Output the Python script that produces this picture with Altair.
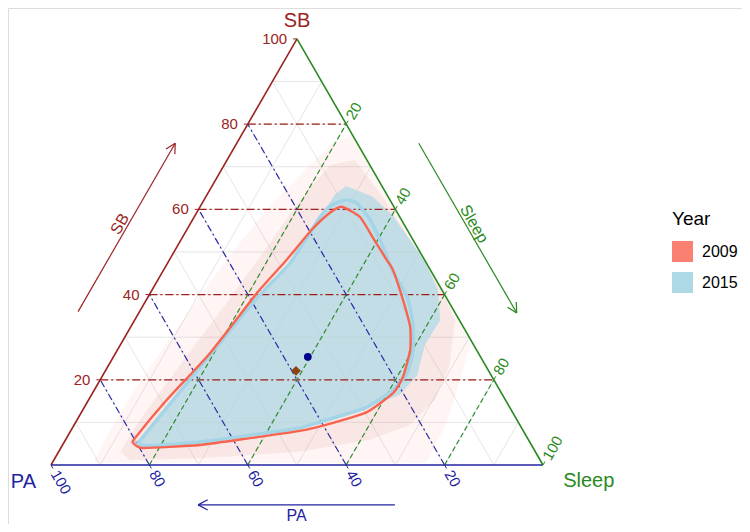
import altair as alt
import pandas as pd
import numpy as np

H = np.sqrt(3) / 2

# ---------------- data ----------------
major_ticks = [20, 40, 60, 80]
minor_ticks = [10, 30, 50, 70, 90]
label_ticks = [20, 40, 60, 80, 100]
years = ["2009", "2015"]
year_colors = ["#FA8072", "#ADD8E6"]

# 95% contours (SB %, Sleep %), PA = 100 - SB - Sleep
c2009_sb = [60.6, 58.2, 53.5, 48.1, 45.8, 38.7, 32.4, 27.0, 20.7, 16.9, 12.4, 9.9, 8.0, 6.3, 4.7, 4.0, 5.2, 6.3, 15.3, 26.3, 40.4, 47.7, 55.2, 59.2]
c2009_sleep = [28.8, 33.7, 38.6, 44.2, 46.6, 52.2, 56.8, 59.5, 61.2, 61.1, 58.0, 52.4, 46.6, 37.3, 27.9, 16.7, 14.1, 13.9, 15.9, 19.2, 21.7, 23.7, 25.4, 27.1]
c2015_sb = [62.2, 61.5, 57.5, 51.2, 45.8, 39.4, 33.3, 27.0, 21.6, 17.6, 13.6, 11.0, 8.7, 7.0, 5.4, 4.5, 5.2, 6.6, 23.0, 39.2, 47.4, 58.2, 61.0]
c2015_sleep = [28.9, 31.4, 36.1, 41.9, 46.4, 52.7, 56.9, 60.1, 61.6, 60.7, 57.4, 51.8, 46.2, 36.9, 27.6, 17.3, 15.1, 15.4, 18.8, 22.3, 24.9, 25.6, 26.6]

# extents of the observation clouds
cloud2015_sb = [65.5, 63.1, 58.7, 52.8, 47.7, 41.1, 34.0, 28.2, 21.1, 16.4, 13.6, 11.0, 8.7, 7.0, 5.4, 4.5, 5.2, 6.6, 23.0, 39.2, 47.4, 58.2, 63.4]
cloud2015_sleep = [27.2, 33.7, 40.0, 46.6, 52.2, 58.1, 62.1, 61.9, 63.9, 62.7, 57.4, 51.8, 46.2, 36.9, 27.6, 17.3, 15.1, 15.4, 18.8, 22.3, 24.9, 25.6, 26.0]
cloud2009_inner_sb = [3.1, 10.6, 23.5, 37.6, 50.5, 62.2, 70.4, 71.6, 62.2, 52.8, 42.3, 34.0, 23.5, 15.3, 9.4, 5.9, 3.1, 1.6, 1.2]
cloud2009_inner_sleep = [12.5, 12.8, 14.5, 16.6, 18.3, 19.5, 21.5, 26.0, 36.8, 46.6, 57.7, 65.1, 69.3, 70.4, 68.3, 61.9, 49.1, 29.5, 15.5]
cloud2009_outer_sb = [1.2, 5.9, 14.1, 24.6, 36.4, 47.7, 58.7, 68.1, 75.1, 77.5, 61.0, 48.6, 36.4, 28.2, 20.0, 10.6, 2.3, 0.5, 0.5]
cloud2009_outer_sleep = [8.3, 8.0, 8.0, 8.8, 10.1, 11.5, 13.5, 16.6, 19.2, 22.4, 39.0, 51.4, 63.6, 71.1, 73.1, 75.4, 75.9, 76.0, 8.7]

# compositional means
mean_year = ["2009", "2015"]
mean_sb = [22.1, 25.4]
mean_sleep = [38.75, 39.5]

SB_COL = "#9B2323"
PA_COL = "#2323A0"
SL_COL = "#2A8A22"
FONT = "Liberation Sans"


def tern(sb, sleep):
    sb = np.asarray(sb, float)
    sleep = np.asarray(sleep, float)
    return sleep + sb / 2, sb * H


def poly_df(sb, sleep):
    x, y = tern(sb, sleep)
    return pd.DataFrame({"X": x, "Y": y, "i": np.arange(len(x))})


# ---------------- scales ----------------
K = 4.92
xs = alt.Scale(domain=[-43 / K, (734 - 43) / K], nice=False, zero=False)
ys = alt.Scale(domain=[-(516 - 457) / K, 457 / K], nice=False, zero=False)
EX = alt.X("X:Q", scale=xs, axis=None)
EY = alt.Y("Y:Q", scale=ys, axis=None)


def polygon(sb, sleep, fill, op):
    return alt.Chart(poly_df(sb, sleep)).mark_line(
        interpolate="linear-closed", fill=fill, fillOpacity=op, strokeWidth=0
    ).encode(x=EX, y=EY, order="i:Q")


def contour(sb, sleep, color, width):
    return alt.Chart(poly_df(sb, sleep)).mark_line(
        interpolate="cardinal-closed", tension=0.45, color=color, strokeWidth=width
    ).encode(x=EX, y=EY, order="i:Q")


def segs(rows):
    return pd.DataFrame(rows, columns=["X", "Y", "X2", "Y2"])


def rules(df, color, width, dash=None):
    kw = dict(color=color, strokeWidth=width)
    if dash:
        kw["strokeDash"] = dash
    return alt.Chart(df).mark_rule(**kw).encode(x=EX, y=EY, x2="X2:Q", y2="Y2:Q")


def sb_line(v):
    return [v / 2, v * H, 100 - v / 2, v * H]


def pa_line(v):
    return [100 - v, 0, (100 - v) / 2, (100 - v) * H]


def sl_line(v):
    return [v, 0, 50 + v / 2, (100 - v) * H]


grid_rows = []
for v in minor_ticks + major_ticks:
    grid_rows += [sb_line(v), pa_line(v), sl_line(v)]
grid = rules(segs(grid_rows), "#DEDEDE", 0.8)

sb_grid = rules(segs([sb_line(v) for v in major_ticks]), "#A01E1E", 1.2, [8, 3, 2, 3])
pa_grid = rules(segs([pa_line(v) for v in major_ticks]), "#2A2AA8", 1.2, [7, 3, 2, 3])
sl_grid = rules(segs([sl_line(v) for v in major_ticks]), "#2E8B2E", 1.2, [5, 3])

# triangle edges
edge_sb = rules(segs([[0, 0, 50, 100 * H]]), SB_COL, 1.6)
edge_pa = rules(segs([[0, 0, 100, 0]]), PA_COL, 1.6)
edge_sl = rules(segs([[100, 0, 50, 100 * H]]), SL_COL, 1.6)

# tick marks
TL = 0.8
tick_sb = rules(segs([[v / 2, v * H, v / 2 - TL, v * H] for v in label_ticks]), SB_COL, 1)
tick_pa = rules(segs([[100 - v, 0, 100 - v + 0.5 * TL, -H * TL] for v in label_ticks]), PA_COL, 1)
tick_sl = rules(segs([[50 + v / 2, (100 - v) * H, 50 + v / 2 + 0.5 * TL, (100 - v) * H + H * TL] for v in label_ticks]), SL_COL, 1)


def texts(df, color, size, **kw):
    return alt.Chart(df).mark_text(color=color, fontSize=size, font=FONT, **kw).encode(
        x=EX, y=EY, text="t:N"
    )


lab_sb = texts(pd.DataFrame({"X": [v / 2 - 2.0 for v in label_ticks], "Y": [v * H for v in label_ticks], "t": [str(v) for v in label_ticks]}),
               SB_COL, 15, align="right", baseline="middle")
lab_pa = texts(pd.DataFrame({"X": [100 - v + 0.5 * 1.5 for v in label_ticks], "Y": [-H * 1.5 for v in label_ticks], "t": [str(v) for v in label_ticks]}),
               PA_COL, 15, align="left", baseline="middle", angle=60)
lab_sl = texts(pd.DataFrame({"X": [50 + v / 2 + 0.5 * 1.4 for v in label_ticks], "Y": [(100 - v) * H + H * 1.4 for v in label_ticks], "t": [str(v) for v in label_ticks]}),
               SL_COL, 15, align="left", baseline="middle", angle=300)

# axis titles at the vertices
tit_sb = texts(pd.DataFrame({"X": [50], "Y": [100 * H + 3.6], "t": ["SB"]}), SB_COL, 20, align="center", baseline="middle")
tit_pa = texts(pd.DataFrame({"X": [-5.6], "Y": [-3.5], "t": ["PA"]}), PA_COL, 20, align="center", baseline="middle")
tit_sl = texts(pd.DataFrame({"X": [109.3], "Y": [-3.3], "t": ["Sleep"]}), SL_COL, 20, align="center", baseline="middle")


# direction arrows
def arrow_rows(x0, y0, x1, y1, L=2.2, ang=28):
    d = np.array([x1 - x0, y1 - y0])
    d = d / np.linalg.norm(d)
    rows = [[x0, y0, x1, y1]]
    for a in (ang, -ang):
        r = np.radians(a)
        rd = np.array([d[0] * np.cos(r) - d[1] * np.sin(r), d[0] * np.sin(r) + d[1] * np.cos(r)])
        rows.append([x1, y1, x1 - L * rd[0], y1 - L * rd[1]])
    return rows


OFF = 12.5
PA_ARROW_Y = -8.1
arr_sb = rules(segs(arrow_rows(36 / 2 - OFF, 36 * H, 75.5 / 2 - OFF, 75.5 * H)), SB_COL, 1.2)
arr_sl = rules(segs(arrow_rows(100 - 75.5 / 2 + OFF, 75.5 * H, 100 - 35.7 / 2 + OFF, 35.7 * H)), SL_COL, 1.2)
arr_pa = rules(segs(arrow_rows(69.9, PA_ARROW_Y, 29.9, PA_ARROW_Y)), PA_COL, 1.2)

alab_sb = texts(pd.DataFrame({"X": [56 / 2 - OFF - 0.6], "Y": [56 * H], "t": ["SB"]}), SB_COL, 16, align="center", baseline="alphabetic", angle=300)
alab_sl = texts(pd.DataFrame({"X": [100 - 56 / 2 + OFF + 0.6], "Y": [56 * H], "t": ["Sleep"]}), SL_COL, 16, align="center", baseline="alphabetic", angle=60)
alab_pa = texts(pd.DataFrame({"X": [49.9], "Y": [PA_ARROW_Y - 0.6], "t": ["PA"]}), PA_COL, 16, align="center", baseline="top")

# clouds and contours
cl_outer = polygon(cloud2009_outer_sb, cloud2009_outer_sleep, "#FA8072", 0.08)
cl_inner = polygon(cloud2009_inner_sb, cloud2009_inner_sleep, "#D8A0A0", 0.16)
cl_2015 = polygon(cloud2015_sb, cloud2015_sleep, "#ADD8E6", 0.7)
ct_2015 = contour(c2015_sb, c2015_sleep, "#A3D5E7", 3.5)
ct_2009 = contour(c2009_sb, c2009_sleep, "#F8644F", 2.4)

# means (also carry the Year legend)
mx, my = tern(mean_sb, mean_sleep)
means_df = pd.DataFrame({"X": mx, "Y": my, "Year": mean_year})
legend_layer = alt.Chart(means_df).mark_square(size=2).encode(
    x=EX, y=EY,
    fill=alt.Fill("Year:N", scale=alt.Scale(domain=years, range=year_colors),
                  legend=alt.Legend(title="Year", orient="none", legendX=664, legendY=202,
                                    titleFontSize=19, titleFontWeight="normal", titleColor="black",
                                    titleFont=FONT, labelFont=FONT, labelFontSize=16, labelColor="black",
                                    symbolSize=441, symbolType="square", symbolStrokeWidth=0,
                                    symbolOpacity=1, rowPadding=10, titlePadding=12, labelOffset=9,
                                    padding=0)),
)
mean_2009 = alt.Chart(means_df[means_df.Year == "2009"]).mark_point(
    shape="diamond", filled=True, size=95, color="#8B4513", opacity=1
).encode(x=EX, y=EY)
mean_2015 = alt.Chart(means_df[means_df.Year == "2015"]).mark_point(
    shape="circle", filled=True, size=60, color="#00008B", opacity=1
).encode(x=EX, y=EY)

chart = alt.layer(
    grid, cl_outer, cl_inner, cl_2015,
    sb_grid, pa_grid, sl_grid,
    ct_2015, ct_2009,
    edge_sb, edge_pa, edge_sl, tick_sb, tick_pa, tick_sl,
    lab_sb, lab_pa, lab_sl, tit_sb, tit_pa, tit_sl,
    arr_sb, arr_sl, arr_pa, alab_sb, alab_sl, alab_pa,
    legend_layer, mean_2009, mean_2015,
).properties(
    width=734, height=516, autosize="none", padding=0
).configure_view(stroke=None).configure(background="white")

chart.save("out.html", embed_options={"renderer": "svg", "actions": False})
